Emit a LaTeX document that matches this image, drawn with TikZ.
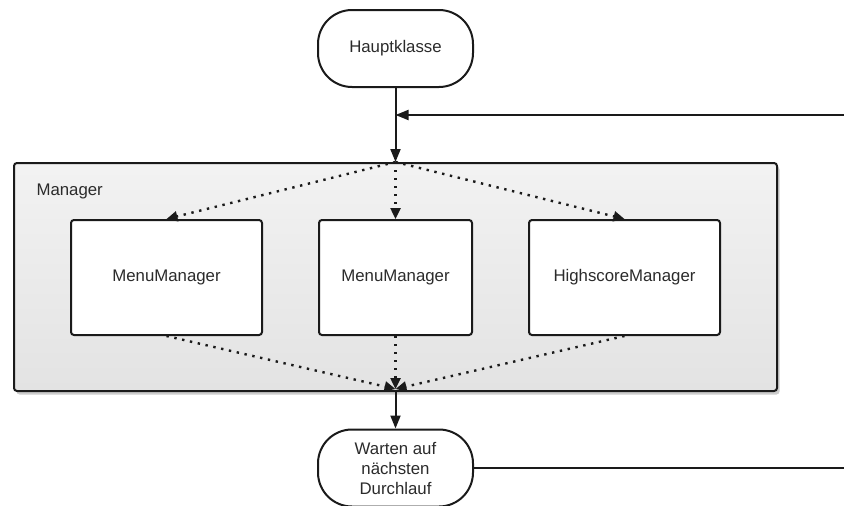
\documentclass[tikz,border=0pt]{standalone}
\usepackage{fontspec}
\setmainfont{Liberation Sans}
\usetikzlibrary{arrows.meta,shadows}

\definecolor{ink}{HTML}{1A1A1A}
\definecolor{txt}{HTML}{2B2B2B}

\begin{document}
\begin{tikzpicture}[x=1pt,y=-1pt,
    font=\fontsize{16.8}{20}\selectfont, text=txt,
    terminal/.style={draw=ink, line width=2pt, fill=white, rounded corners=34pt,
        minimum width=155pt, minimum height=77pt, inner sep=0pt, align=center},
    manager/.style={draw=ink, line width=2pt, fill=white, rounded corners=3pt,
        minimum height=115pt, inner sep=0pt},
    group/.style={draw=ink, line width=2pt, rounded corners=3pt,
        top color=black!5, bottom color=black!11,
        drop shadow={opacity=0.4, shadow xshift=2.5pt, shadow yshift=-3.5pt},
        minimum width=763pt, minimum height=228pt, inner sep=0pt},
    flow/.style={draw=ink, line width=2pt, -{Triangle[length=13pt,width=10pt]}},
    call/.style={draw=ink, line width=2.4pt, dash pattern=on 2.4pt off 5.6pt,
        -{Triangle[length=11pt,width=10pt]}}]
    \useasboundingbox (0,0) rectangle (844,506);

    \node[terminal] (haupt) at (395.5,48.5) {Hauptklasse};
    \node[group] (mgr) at (395.5,277) {};
    \node[anchor=base west] (mgrlabel) at (33,195) {Manager};

    \node[manager, minimum width=191pt] (menu1) at (166.5,277.5) {MenuManager};
    \node[manager, minimum width=153pt] (menu2) at (395.5,277.5) {MenuManager};
    \node[manager, minimum width=191pt] (score) at (624.5,277.5) {HighscoreManager};

    \node[terminal] (warten) at (395.5,468) {Warten auf\\nächsten\\Durchlauf};

    \coordinate (loopin) at (844,115);
    \coordinate (join) at (395.5,389);

    % main flow
    \draw[flow] (haupt.south) -- (mgr.north);
    \draw[flow] (loopin) -- (loopin -| haupt.south);
    \draw[flow] (mgr.south) -- (warten.north);
    \draw[draw=ink, line width=2pt] (warten.east) -- (warten.east -| loopin);

    % calls into the managers
    \foreach \m in {menu1,menu2,score} {
        \draw[call] (mgr.north) -- (\m.north);
        \draw[call] (\m.south) -- (join);
    }
\end{tikzpicture}
\end{document}
